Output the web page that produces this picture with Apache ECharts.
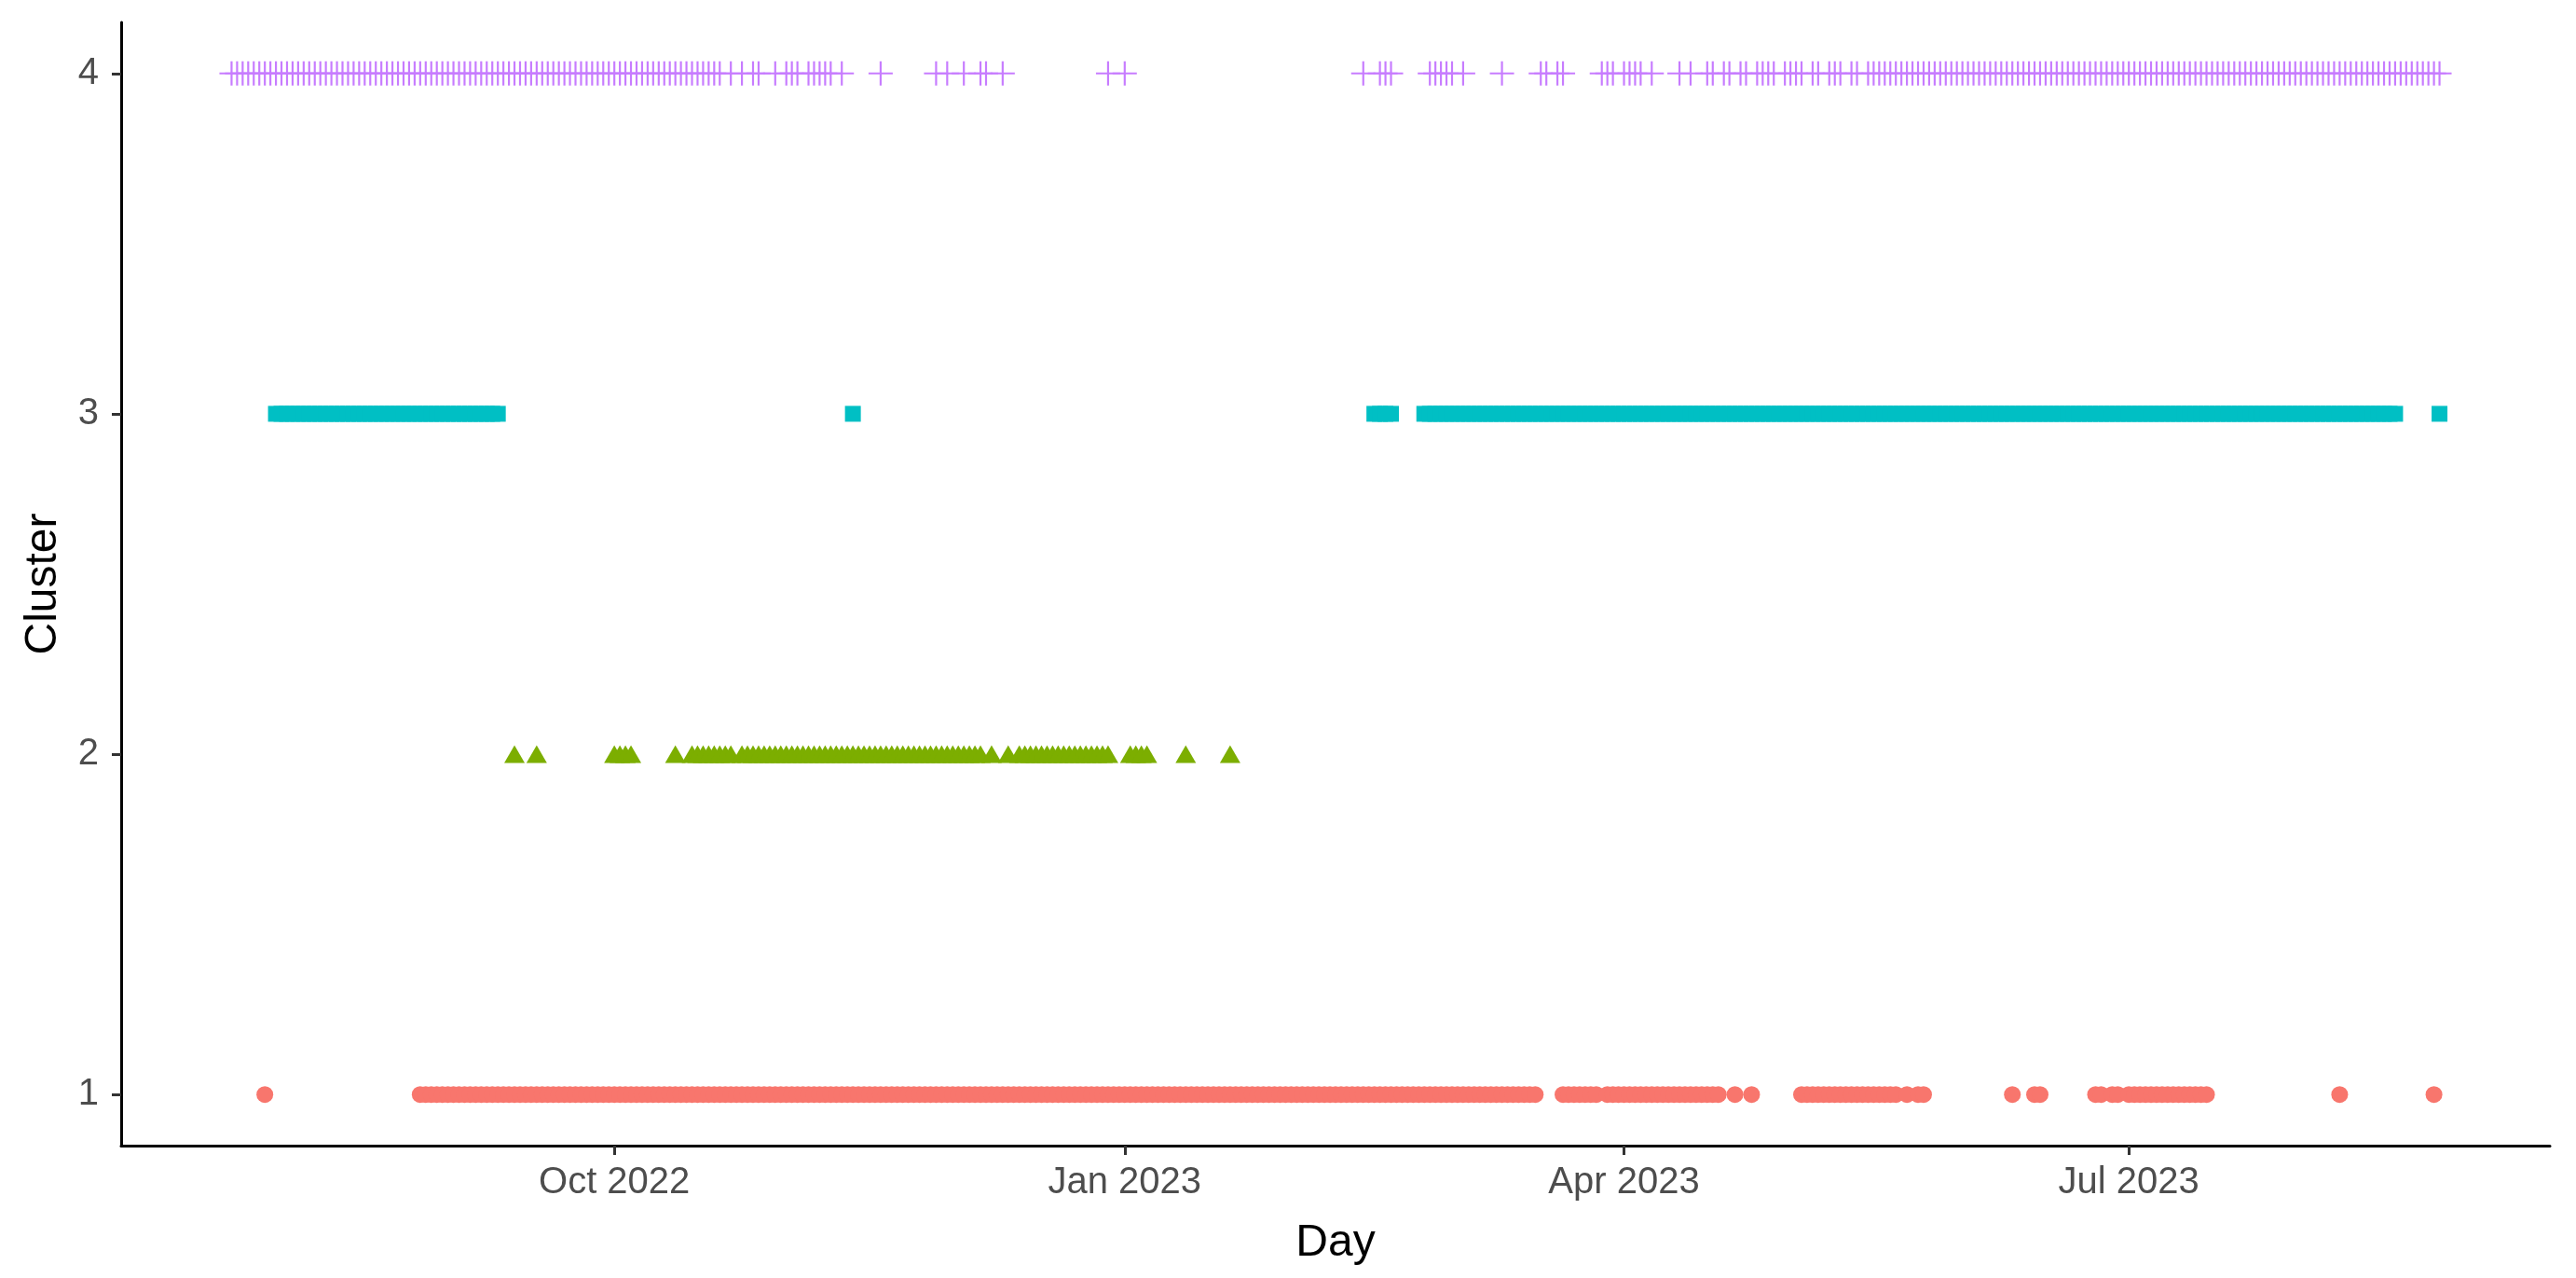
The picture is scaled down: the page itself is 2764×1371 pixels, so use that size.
<!DOCTYPE html>
<html><head><meta charset="utf-8">
<script src="https://cdn.jsdelivr.net/npm/echarts@6/dist/echarts.min.js"></script>
<style>html,body{margin:0;padding:0;background:#fff}#c{width:2764px;height:1371px}</style>
</head><body><div id="c"></div>
<script>
// Each run [first, last] is a band of daily observations assigned to that cluster
const cluster1Runs = [
  ['2022-07-30','2022-07-30'], ['2022-08-27','2023-03-16'], ['2023-03-21','2023-03-27'],
  ['2023-03-29','2023-04-18'], ['2023-04-21','2023-04-21'], ['2023-04-24','2023-04-24'],
  ['2023-05-03','2023-05-20'], ['2023-05-22','2023-05-22'], ['2023-05-24','2023-05-25'],
  ['2023-06-10','2023-06-10'], ['2023-06-14','2023-06-15'], ['2023-06-25','2023-06-26'],
  ['2023-06-28','2023-06-29'], ['2023-07-01','2023-07-15'], ['2023-08-08','2023-08-08'],
  ['2023-08-25','2023-08-25']
];
const cluster2Runs = [
  ['2022-09-13','2022-09-13'], ['2022-09-17','2022-09-17'], ['2022-10-01','2022-10-04'],
  ['2022-10-12','2022-10-12'], ['2022-10-15','2022-10-22'], ['2022-10-24','2022-12-06'],
  ['2022-12-08','2022-12-08'], ['2022-12-11','2022-12-11'], ['2022-12-13','2022-12-29'],
  ['2023-01-02','2023-01-05'], ['2023-01-12','2023-01-12'], ['2023-01-20','2023-01-20']
];
const cluster3Runs = [
  ['2022-08-01','2022-09-10'], ['2022-11-13','2022-11-13'], ['2023-02-15','2023-02-18'],
  ['2023-02-24','2023-08-18'], ['2023-08-26','2023-08-26']
];
const cluster4Runs = [
  ['2022-07-24','2022-10-20'], ['2022-10-22','2022-10-22'], ['2022-10-24','2022-10-24'],
  ['2022-10-26','2022-10-27'], ['2022-10-30','2022-10-30'], ['2022-11-01','2022-11-03'],
  ['2022-11-05','2022-11-09'], ['2022-11-11','2022-11-11'], ['2022-11-18','2022-11-18'],
  ['2022-11-28','2022-11-28'], ['2022-11-30','2022-11-30'], ['2022-12-03','2022-12-03'],
  ['2022-12-06','2022-12-07'], ['2022-12-10','2022-12-10'], ['2022-12-29','2022-12-29'],
  ['2023-01-01','2023-01-01'], ['2023-02-13','2023-02-13'], ['2023-02-16','2023-02-18'],
  ['2023-02-25','2023-03-01'], ['2023-03-03','2023-03-03'], ['2023-03-10','2023-03-10'],
  ['2023-03-17','2023-03-18'], ['2023-03-20','2023-03-21'], ['2023-03-28','2023-03-30'],
  ['2023-04-01','2023-04-04'], ['2023-04-06','2023-04-06'], ['2023-04-11','2023-04-11'],
  ['2023-04-13','2023-04-13'], ['2023-04-16','2023-04-17'], ['2023-04-19','2023-04-20'],
  ['2023-04-22','2023-04-23'], ['2023-04-25','2023-04-28'], ['2023-04-30','2023-05-03'],
  ['2023-05-05','2023-05-06'], ['2023-05-08','2023-05-10'], ['2023-05-12','2023-05-13'],
  ['2023-05-15','2023-08-26']
];
const xTickDates = ['2022-10-01','2023-01-01','2023-04-01','2023-07-01'];
const xTickLabels = ['Oct 2022','Jan 2023','Apr 2023','Jul 2023'];
const yTickValues = [1, 2, 3, 4];
const yTickLabels = ['1', '2', '3', '4'];

function ts(s){ const p = s.split('-').map(Number); return Date.UTC(p[0], p[1]-1, p[2]); }
const DAY = 86400000;
function expand(runs, cluster){
  const out = [];
  runs.forEach(r => {
    const b = ts(r[1]);
    for (let t = ts(r[0]); t <= b; t += DAY) out.push([t, cluster]);
  });
  return out;
}
const first = ts('2022-07-24'), last = ts('2023-08-26');
const pad = (last - first) * 0.05;
const tickTs = xTickDates.map(ts);
const font = 'Liberation Sans, Arial, sans-serif';
const plusPath = 'path://M-1,-12H1V-1H12V1H1V12H-1V1H-12V-1H-1Z';

const chart = echarts.init(document.getElementById('c'), null, {renderer:'canvas'});
chart.setOption({
  animation: false,
  backgroundColor: '#ffffff',
  textStyle: {fontFamily: font},
  grid: {left: 130, right: 28, top: 24, bottom: 142, containLabel: false},
  xAxis: {
    type: 'value', min: first - pad, max: last + pad,
    name: 'Day', nameLocation: 'middle', nameGap: 81,
    nameTextStyle: {fontSize: 48, color: '#000', fontFamily: font},
    axisLine: {show: true, onZero: false, lineStyle: {color: '#000', width: 3}},
    axisTick: {show: true, customValues: tickTs, length: 10, lineStyle: {color: '#333', width: 3}},
    axisLabel: {customValues: tickTs, margin: 20, fontSize: 40, color: '#4D4D4D', fontFamily: font,
      formatter: v => { const i = tickTs.indexOf(v); return i >= 0 ? xTickLabels[i] : ''; }},
    splitLine: {show: false}
  },
  yAxis: {
    type: 'value', min: 0.85, max: 4.15,
    name: 'Cluster', nameLocation: 'middle', nameGap: 59,
    nameTextStyle: {fontSize: 48, color: '#000', fontFamily: font},
    axisLine: {show: true, onZero: false, lineStyle: {color: '#000', width: 3}},
    axisTick: {show: true, customValues: yTickValues, length: 10, lineStyle: {color: '#333', width: 3}},
    axisLabel: {customValues: yTickValues, margin: 24, fontSize: 40, color: '#4D4D4D', fontFamily: font,
      formatter: v => { const i = yTickValues.indexOf(v); return i >= 0 ? yTickLabels[i] : ''; }},
    splitLine: {show: false}
  },
  series: [
    {type: 'scatter', data: expand(cluster1Runs, 1), symbol: 'circle', symbolSize: 18,
     itemStyle: {color: '#F8766D', opacity: 1}},
    {type: 'scatter', data: expand(cluster2Runs, 2), symbol: 'triangle', symbolSize: [22, 19],
     itemStyle: {color: '#7CAE00', opacity: 1}},
    {type: 'scatter', data: expand(cluster3Runs, 3), symbol: 'rect', symbolSize: 17,
     itemStyle: {color: '#00BFC4', opacity: 1}},
    {type: 'scatter', data: expand(cluster4Runs, 4), symbol: plusPath, symbolSize: 26,
     itemStyle: {color: '#C77CFF', opacity: 1}}
  ]
});
</script></body></html>
